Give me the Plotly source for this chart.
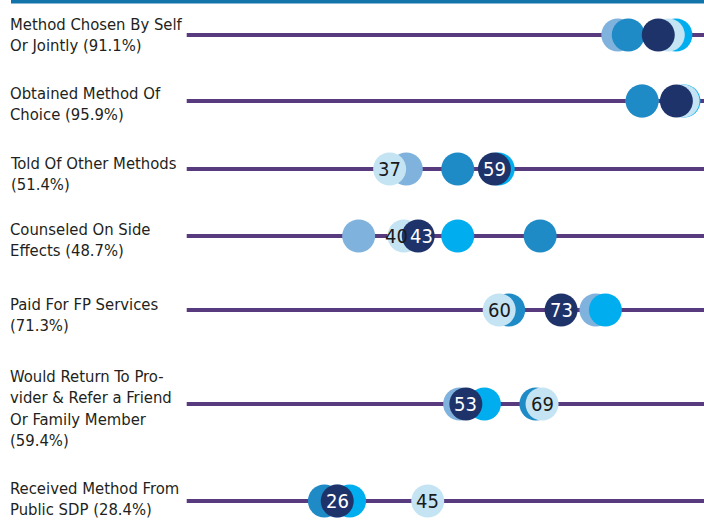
import plotly.graph_objects as go

# ---- data ----
categories = [
    "Method Chosen By Self<br>Or Jointly (91.1%)",
    "Obtained Method Of<br>Choice (95.9%)",
    "Told Of Other Methods<br>(51.4%)",
    "Counseled On Side<br>Effects (48.7%)",
    "Paid For FP Services<br>(71.3%)",
    "Would Return To Pro-<br>vider & Refer a Friend<br>Or Family Member<br>(59.4%)",
    "Received Method From<br>Public SDP (28.4%)",
]
series_a = [84.9, 90.0, 40.5, 30.5, 80.3, 51.7, 26.0]   # light steel blue
series_b = [87.1, 90.0, 51.3, 68.6, 62.0, 67.7, 23.3]   # medium blue
series_c = [97.1, 98.8, 59.8, 51.3, 82.3, 56.9, 28.6]   # bright cyan
series_d = [95.5, 98.6, 37, 40, 60, 69, 45]             # pale blue (labelled)
series_e = [93.4, 97.2, 59, 43, 73, 53, 26]             # navy (labelled)
labelled_rows = [False, False, True, True, True, True, True]

# ---- layout helpers (pixel positions, not data) ----
W, H = 704, 520
row_y = [35, 101, 169, 236, 310, 404, 501]
label_top = [18, 87, 157, 223, 298, 370, 482]
x_range = [-44.8, 103.0]
line_x = [-5.6, 103.0]
shift_d = [0, 0, 0, -7, 0, 0, 0]
shift_e = [0, 0, 0, 3, 0, 0, 0]

FONT = "DejaVu Sans Condensed, Liberation Sans Narrow, Arial Narrow, sans-serif"

fig = go.Figure()

for y in row_y:
    fig.add_shape(type="line", xref="x", yref="y", x0=line_x[0], x1=line_x[1], y0=y, y1=y,
                  line=dict(color="#583a7e", width=4), layer="below")

traces = [
    ("Series A", series_a, "#7fb2dc"),
    ("Series B", series_b, "#1e8ac6"),
    ("Series C", series_c, "#00aeef"),
    ("Series D", series_d, "#c4e4f4"),
    ("Series E", series_e, "#1f336b"),
]
for name, vals, col in traces:
    fig.add_trace(go.Scatter(
        x=vals, y=row_y, name=name, mode="markers",
        marker=dict(size=33, color=col, line=dict(width=0)),
        hoverinfo="skip", showlegend=False, cliponaxis=False,
    ))

# value labels on pale and navy circles
for vals, shifts, tcol in [(series_d, shift_d, "#1a1a1a"), (series_e, shift_e, "#ffffff")]:
    for v, y, s, show in zip(vals, row_y, shifts, labelled_rows):
        if show:
            fig.add_annotation(text=f"{v:g}", x=v, y=y, xref="x", yref="y", xshift=s,
                               showarrow=False, xanchor="center", yanchor="middle",
                               font=dict(family=FONT, size=20, color=tcol))

# top bar
fig.add_shape(type="rect", xref="paper", yref="paper", x0=11/W, x1=1, y0=1-3.5/H, y1=1,
              fillcolor="#1274a8", line=dict(width=0))

for txt, yt in zip(categories, label_top):
    fig.add_annotation(text=txt, xref="paper", yref="y", x=8/W, y=yt - 5,
                       xanchor="left", yanchor="top", align="left", showarrow=False,
                       font=dict(family=FONT, size=16.5, color="#231f20"))

fig.update_layout(
    width=W, height=H, margin=dict(l=0, r=0, t=0, b=0),
    paper_bgcolor="white", plot_bgcolor="white",
    xaxis=dict(range=x_range, visible=False, fixedrange=True),
    yaxis=dict(range=[H, 0], visible=False, fixedrange=True),
)
fig.write_html("out.html", config={"displayModeBar": False},
               post_script="document.body.style.margin='0';")
